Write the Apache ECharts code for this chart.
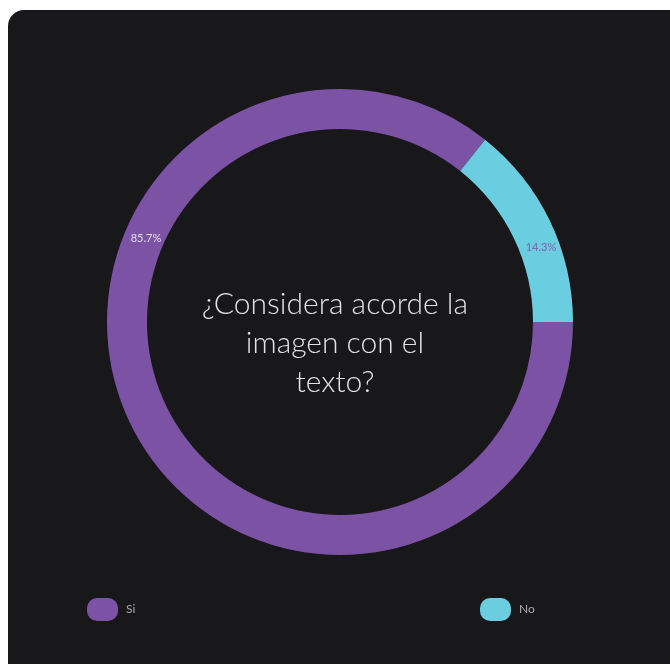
<!DOCTYPE html>
<html>
<head>
<meta charset="utf-8">
<style>
  html, body { margin: 0; padding: 0; background: #ffffff; }
  #chart { width: 670px; height: 664px; }
</style>
<script src="https://cdn.jsdelivr.net/npm/echarts@6/dist/echarts.min.js"></script>
</head>
<body>
<div id="chart"></div>
<script>
// Survey answers (percent of responses)
const categories = ['Si', 'No'];
const shares = [85.7, 14.3];
const colors = ['#7c52a5', '#6bcde0'];
const question = '¿Considera acorde la\nimagen con el\ntexto?';

const chart = echarts.init(document.getElementById('chart'));

const pieData = categories.map((name, i) => ({
  name: name,
  value: shares[i],
  itemStyle: { color: colors[i] }
}));

const fmt = v => v.toFixed(1) + '%';
const font = 'Lato, "Open Sans", sans-serif';

// Stadium-shaped legend marker
const pill = 'path://M10,0 H21 A10,10 0 0 1 31,10 V13 A10,10 0 0 1 21,23 H10 A10,10 0 0 1 0,13 V10 A10,10 0 0 1 10,0 Z';

const legendBase = {
  orient: 'horizontal',
  top: 593,
  itemWidth: 31,
  itemHeight: 23,
  itemGap: 10,
  icon: pill,
  selectedMode: false,
  textStyle: { color: '#a9a9ab', fontSize: 12, fontFamily: font, padding: [0, 0, 0, 3] }
};

chart.setOption({
  animation: false,
  backgroundColor: 'transparent',
  graphic: [
    {
      type: 'rect',
      z: -10,
      silent: true,
      shape: { x: 8, y: 10, width: 690, height: 690, r: 16 },
      style: { fill: '#18171a' }
    },
    {
      type: 'text',
      z: 10,
      left: 'center',
      top: 285,
      style: {
        text: question,
        fill: '#e2e2e2',
        font: '300 30px ' + font,
        textAlign: 'center',
        lineHeight: 39
      }
    },
    {
      type: 'text',
      z: 10,
      x: 146,
      y: 238,
      style: {
        text: fmt(shares[0]),
        fill: '#e6dcf2',
        font: '11px ' + font,
        align: 'center',
        verticalAlign: 'middle'
      }
    },
    {
      type: 'text',
      z: 10,
      x: 541,
      y: 247,
      style: {
        text: fmt(shares[1]),
        fill: '#7f62b0',
        font: '11px ' + font,
        align: 'center',
        verticalAlign: 'middle'
      }
    }
  ],
  legend: [
    Object.assign({}, legendBase, { left: 82, data: [categories[0]] }),
    Object.assign({}, legendBase, { left: 475, data: [categories[1]] })
  ],
  series: [
    {
      type: 'pie',
      center: [340, 322],
      radius: [193, 233],
      startAngle: 0,
      clockwise: true,
      label: { show: false },
      labelLine: { show: false },
      emphasis: { disabled: true },
      itemStyle: { borderWidth: 0 },
      data: pieData
    }
  ]
});
</script>
</body>
</html>
